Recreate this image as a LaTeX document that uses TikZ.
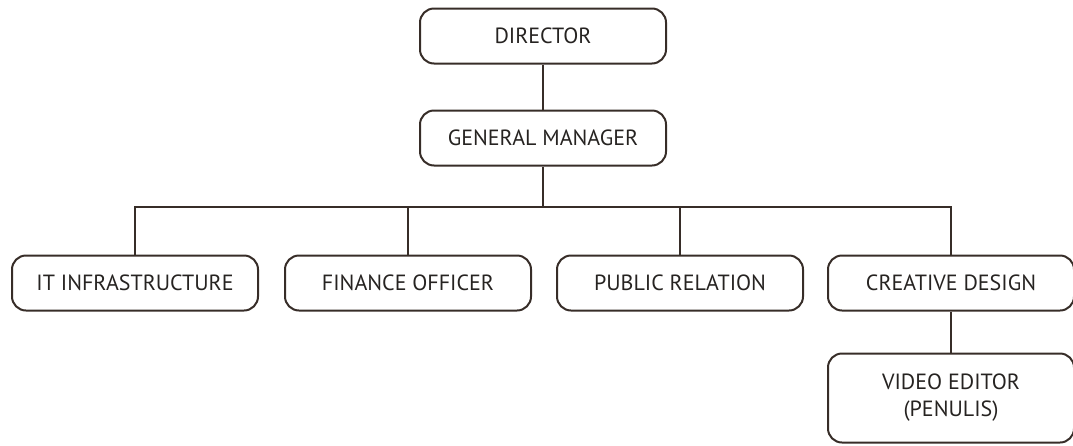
\documentclass[tikz,border=0pt]{standalone}
\usepackage{fontspec}
\setmainfont{PT Sans}
\definecolor{ln}{RGB}{55,45,40}
\definecolor{tx}{RGB}{38,35,33}
\begin{document}
\begin{tikzpicture}[x=1pt,y=-1pt,
  box/.style={draw=ln,line width=2pt,rounded corners=14pt,minimum width=246pt,minimum height=55pt,text=tx,font=\fontsize{22}{27}\selectfont,inner sep=0pt,align=center},
  conn/.style={draw=ln,line width=2pt}]
\useasboundingbox (0,0) rectangle (1073,445);
\node[box] (dir) at (543,36) {DIRECTOR};
\node[box] (gm) at (543,138) {GENERAL MANAGER};
\node[box] (it) at (135,283) {IT INFRASTRUCTURE};
\node[box] (fin) at (408,283) {FINANCE OFFICER};
\node[box] (pr) at (680,283) {PUBLIC RELATION};
\node[box] (cd) at (951,283) {CREATIVE DESIGN};
\node[box,minimum height=89pt] (ve) at (951,398) {VIDEO EDITOR\\(PENULIS)};
\coordinate (bus) at (543,207);
\draw[conn] (dir) -- (gm);
\draw[conn] (gm) -- (bus);
\draw[conn] (it.north) |- (bus) -| (cd.north);
\draw[conn] (fin.north) -- (fin.north |- bus);
\draw[conn] (pr.north) -- (pr.north |- bus);
\draw[conn] (cd) -- (ve);
\end{tikzpicture}
\end{document}
